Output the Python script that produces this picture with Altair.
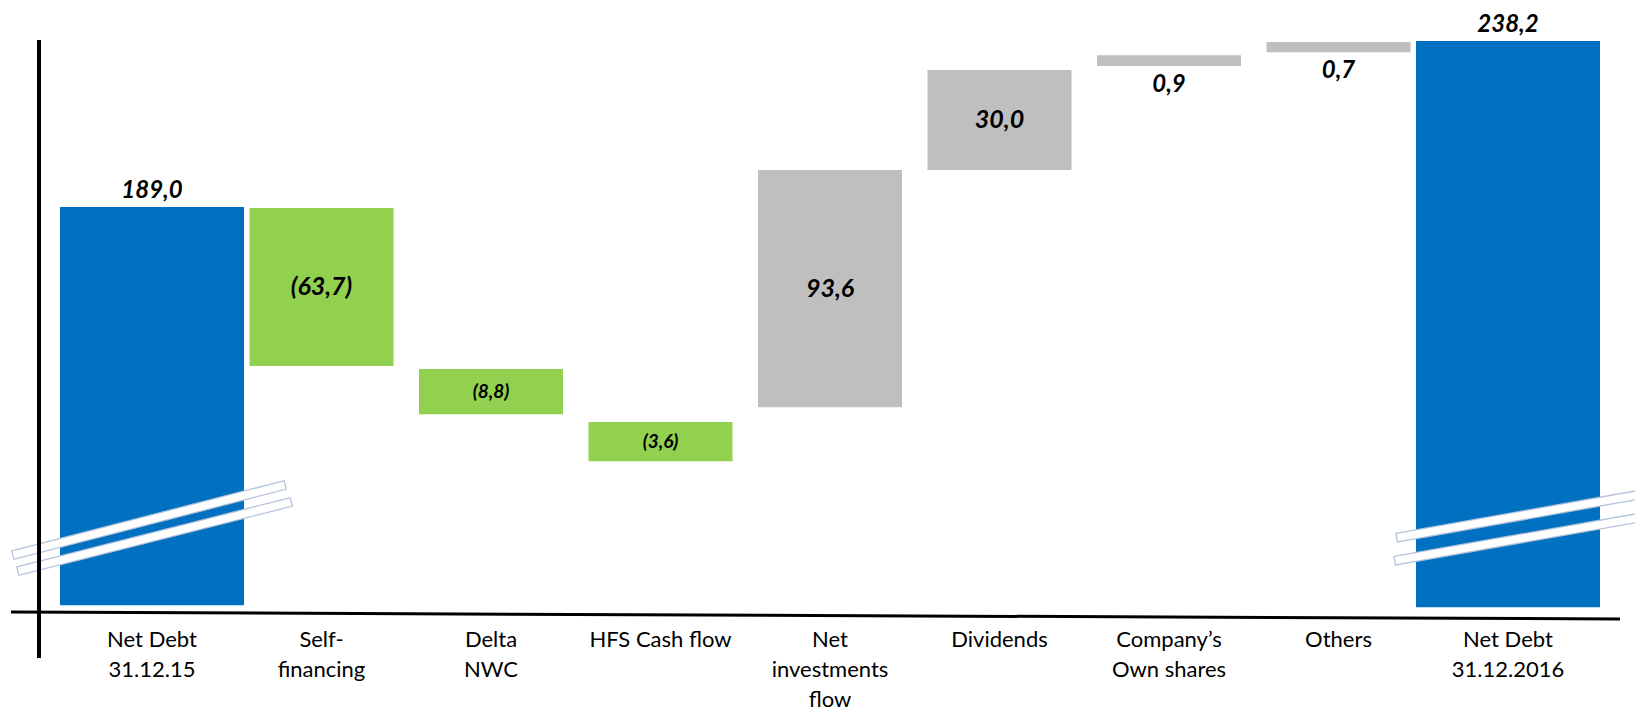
import altair as alt
import pandas as pd

# ---- data ----
categories = [
    "Net Debt\n31.12.15",
    "Self-\nfinancing",
    "Delta\nNWC",
    "HFS Cash flow",
    "Net\ninvestments\nflow",
    "Dividends",
    "Company’s\nOwn shares",
    "Others",
    "Net Debt\n31.12.2016",
]
amounts = [189.0, -63.7, -8.8, -3.6, 93.6, 30.0, 0.9, 0.7, 238.2]
# bar extents as drawn in the picture (the chart is not to scale, axis is broken)
bar_upper = [189.0, 188.7, 141.0, 125.3, 200.0, 229.6, 234.0, 237.9, 238.2]
bar_lower = [71.0, 141.9, 127.6, 113.7, 129.7, 200.0, 230.8, 234.9, 70.4]


def fmt(v):
    s = f"{abs(v):.1f}".replace(".", ",")
    return f"({s})" if v < 0 else s


n = len(amounts)
kinds = [
    "total" if i in (0, n - 1) else ("decrease" if a < 0 else "increase")
    for i, a in enumerate(amounts)
]
places = [
    "above" if k == "total" else ("below" if abs(a) < 2 else "inside")
    for k, a in zip(kinds, amounts)
]

df = pd.DataFrame({
    "category": categories,
    "amount": amounts,
    "upper": bar_upper,
    "lower": bar_lower,
    "kind": kinds,
    "place": places,
})
df["label"] = [fmt(a) for a in amounts]
df["mid"] = (df["upper"] + df["lower"]) / 2

FONT = "Lato"

x_enc = alt.X(
    "category:N",
    sort=categories,
    scale=alt.Scale(paddingInner=0, paddingOuter=0.1667),
    axis=alt.Axis(
        title=None, domain=False, ticks=False, tickSize=0, grid=False,
        labelAngle=0, labelExpr="split(datum.label, '\\n')",
        labelFont=FONT, labelFontSize=22, labelLineHeight=30,
        labelColor="black", labelPadding=34, labelBaseline="alphabetic",
        labelLimit=0, labelOverlap=False,
    ),
)
y_scale = alt.Scale(domain=[69, 248], nice=False, zero=False)
color_enc = alt.Color(
    "kind:N",
    scale=alt.Scale(domain=["total", "decrease", "increase"],
                    range=["#0070C0", "#92D050", "#BFBFBF"]),
    legend=None,
)

base = alt.Chart(df).encode(x=x_enc)

totals = base.transform_filter("datum.kind == 'total'").mark_bar(size=184).encode(
    y=alt.Y("lower:Q", scale=y_scale, axis=None), y2="upper:Q", color=color_enc
)
changes = base.transform_filter("datum.kind != 'total'").mark_bar(size=144).encode(
    y=alt.Y("lower:Q", scale=y_scale, axis=None), y2="upper:Q", color=color_enc
)

txt = dict(font=FONT, fontStyle="italic", fontWeight="bold", color="black",
           baseline="middle", align="center")
lab_above = base.transform_filter("datum.place == 'above'").mark_text(
    dy=-16, fontSize=24, **txt
).encode(y=alt.Y("upper:Q", scale=y_scale, axis=None), text="label:N")
lab_inside = base.transform_filter("datum.place == 'inside'").mark_text(**txt).encode(
    y=alt.Y("mid:Q", scale=y_scale, axis=None),
    text="label:N",
    size=alt.condition("datum.upper - datum.lower < 20", alt.value(19), alt.value(25)),
)
lab_below = base.transform_filter("datum.place == 'below'").mark_text(
    dy=19, fontSize=24, **txt
).encode(y=alt.Y("lower:Q", scale=y_scale, axis=None), text="label:N")

# ---- decorations: hand-drawn axes and axis-break marks ----
one = pd.DataFrame({"k": [0]})


def rule(x1, y1, x2, y2, color, width, cap="butt"):
    return alt.Chart(one).mark_rule(color=color, strokeWidth=width, strokeCap=cap).encode(
        x=alt.value(x1), y=alt.value(y1), x2=alt.value(x2), y2=alt.value(y2)
    )


def break_mark(x1, y1, x2, y2):
    return rule(x1, y1, x2, y2, "#B4C3DC", 10, "square") + rule(
        x1, y1, x2, y2, "white", 7.4, "square"
    )


y_axis = rule(0, 32, 0, 650, "black", 4)
x_axis = rule(-28, 604, 1581, 611, "black", 3)
breaks = (
    break_mark(-22, 546, 242, 478)
    + break_mark(-17, 562, 248, 495)
    + break_mark(1362, 529, 1621, 483)
    + break_mark(1360, 552, 1621, 506)
)

chart = alt.layer(
    totals, changes, breaks, y_axis, x_axis, lab_above, lab_inside, lab_below
).properties(
    width=1582,
    height=604,
    padding={"left": 31, "top": 0, "right": 14, "bottom": 99},
    autosize=alt.AutoSizeParams(type="none"),
    background="white",
).configure_view(stroke=None)

chart.save("out.html", embed_options={"renderer": "svg", "actions": False})
